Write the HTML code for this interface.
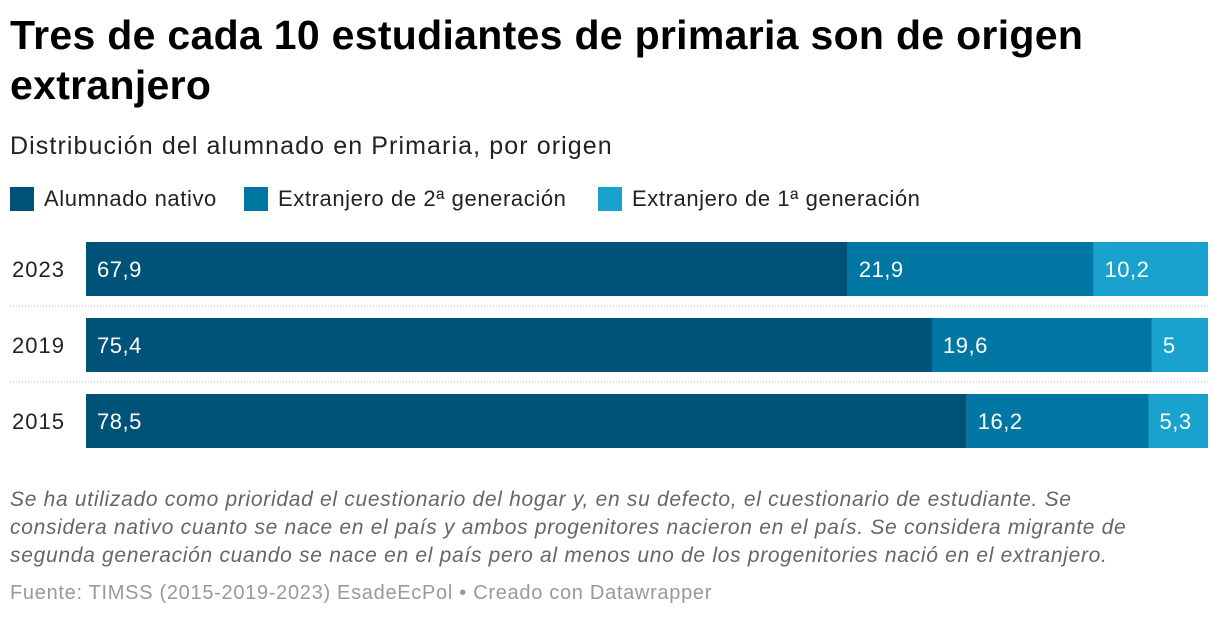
<!DOCTYPE html>
<html><head><meta charset="utf-8">
<style>
body{margin:0;width:1220px;height:620px;background:#fff;font-family:"Liberation Sans",sans-serif;overflow:hidden;position:relative}
.t{position:absolute;left:10px;top:10px;font-size:41px;letter-spacing:0.3px;font-weight:bold;line-height:50px;color:#000;width:1200px}
.s{position:absolute;left:10px;top:132px;font-size:25px;letter-spacing:1.1px;color:#222;white-space:nowrap}
.lg{position:absolute;top:186px;font-size:22px;letter-spacing:0.6px;color:#222;display:flex;align-items:center;white-space:nowrap}
.lg i{display:inline-block;width:24px;height:24px;margin-right:10px}
.note{position:absolute;left:10px;top:486px;font-size:21px;letter-spacing:0.7px;font-style:italic;color:#666;line-height:28px;white-space:nowrap}
.f{position:absolute;left:10px;top:582px;font-size:20px;letter-spacing:0.7px;color:#999;white-space:nowrap}
</style></head><body>
<div class="t">Tres de cada 10 estudiantes de primaria son de origen<br>extranjero</div>
<div class="s">Distribución del alumnado en Primaria, por origen</div>
<div class="lg" style="left:10px"><i style="background:#005279"></i>Alumnado nativo</div>
<div class="lg" style="left:244px"><i style="background:#0077a3"></i>Extranjero de 2ª generación</div>
<div class="lg" style="left:598px"><i style="background:#1aa2cf"></i>Extranjero de 1ª generación</div>
<svg id="c" width="1220" height="620" style="position:absolute;left:0;top:0"></svg>
<div class="note">Se ha utilizado como prioridad el cuestionario del hogar y, en su defecto, el cuestionario de estudiante. Se<br>considera nativo cuanto se nace en el país y ambos progenitores nacieron en el país. Se considera migrante de<br>segunda generación cuando se nace en el país pero al menos uno de los progenitories nació en el extranjero.</div>
<div class="f">Fuente: TIMSS (2015-2019-2023) EsadeEcPol • Creado con Datawrapper</div>
<script>
const years=["2023","2019","2015"];
const nativo=[67.9,75.4,78.5];
const gen2=[21.9,19.6,16.2];
const gen1=[10.2,5,5.3];
const series=[nativo,gen2,gen1];
const names=["nativo","2a-generacion","1a-generacion"];
const colors=["#005279","#0077a3","#1aa2cf"];
const svg=document.getElementById('c');const NS="http://www.w3.org/2000/svg";
const x0=86,W=1122,top0=242,step=76,bh=54;
const xs=v=>v/100*W;
const fmt=v=>String(v).replace('.',',');
years.forEach((y,i)=>{
  const yy=top0+i*step;
  const lab=document.createElementNS(NS,'text');
  
  
  lab.setAttribute('x',12);lab.setAttribute('y',yy+bh/2+8);lab.setAttribute('font-size','22');lab.setAttribute('letter-spacing','1');lab.setAttribute('fill','#222');lab.textContent=y;svg.appendChild(lab);
  let acc=0;
  series.forEach((s,k)=>{
    const r=document.createElementNS(NS,'rect');
    
    
    r.setAttribute('x',x0+xs(acc));r.setAttribute('y',yy);r.setAttribute('width',xs(s[i]));r.setAttribute('height',bh);r.setAttribute('fill',colors[k]);svg.appendChild(r);
    const t=document.createElementNS(NS,'text');
    
    
    t.setAttribute('x',x0+xs(acc)+11);t.setAttribute('y',yy+bh/2+8);t.setAttribute('font-size','22');t.setAttribute('letter-spacing','0.5');t.setAttribute('fill','#fff');t.textContent=fmt(s[i]);svg.appendChild(t);
    acc+=s[i];
  });
  if(i<years.length-1){
    const l=document.createElementNS(NS,'line');
    
    
    l.setAttribute('x1',10);l.setAttribute('x2',1208);l.setAttribute('y1',yy+bh+10);l.setAttribute('y2',yy+bh+10);l.setAttribute('stroke','#bbb');l.setAttribute('stroke-dasharray','1 2');svg.appendChild(l);
  }
});
</script>
</body></html>
